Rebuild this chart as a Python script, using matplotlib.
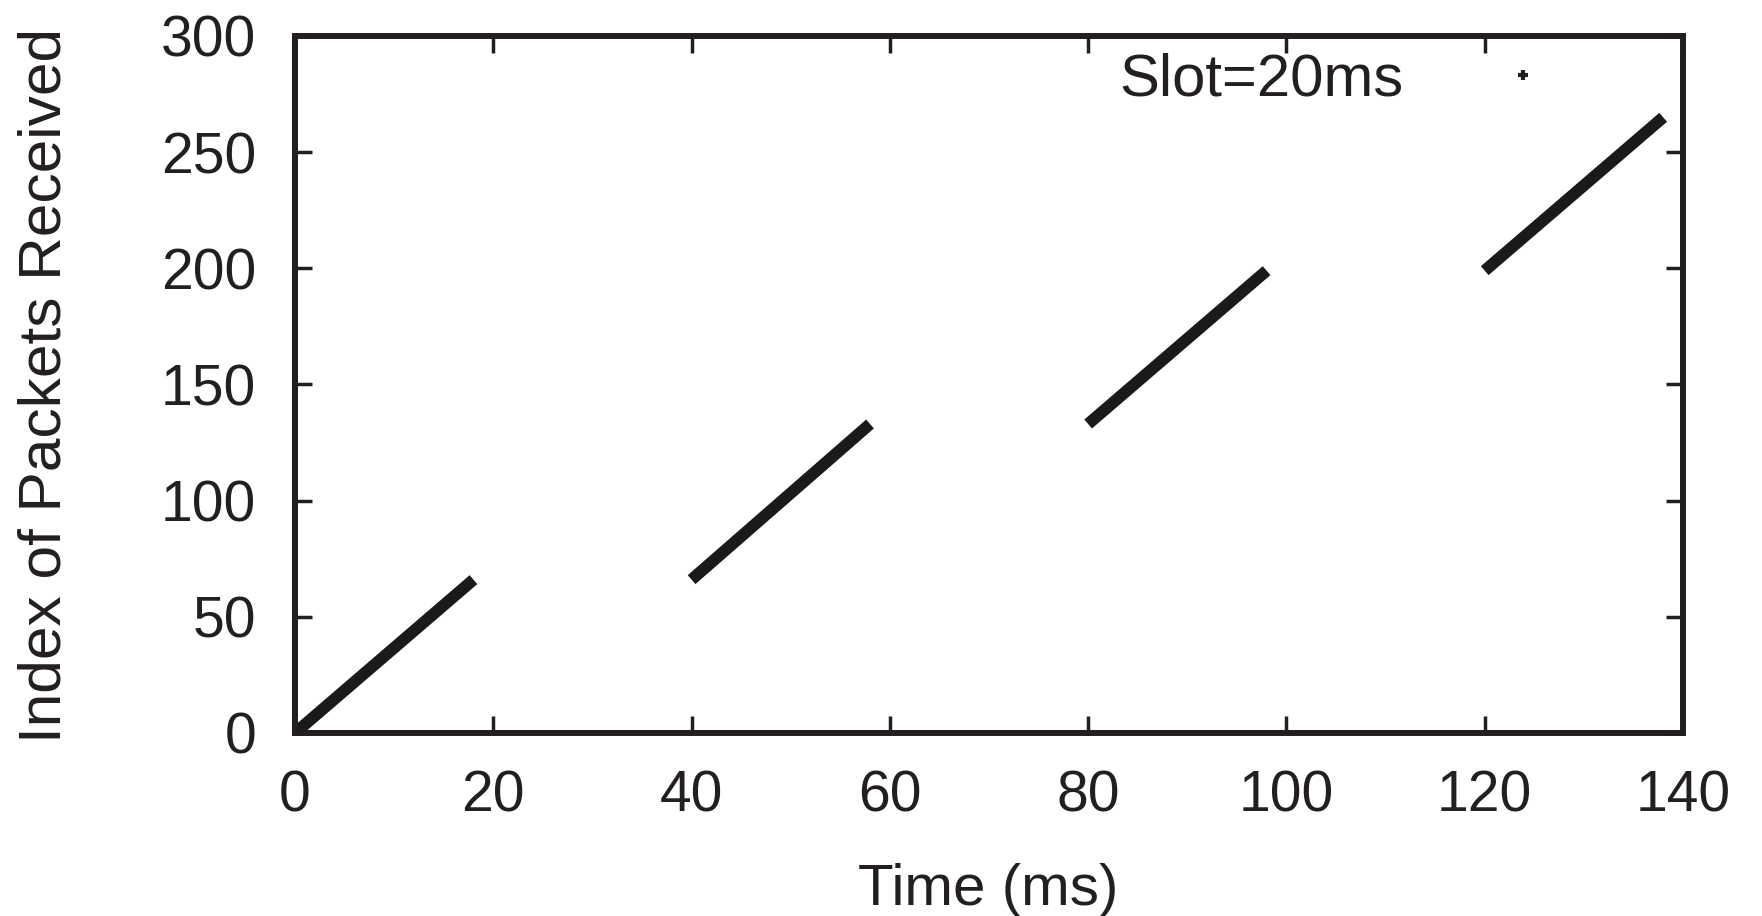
import matplotlib
matplotlib.use('Agg')
import matplotlib.pyplot as plt
from matplotlib.lines import Line2D

plt.rcParams['font.family'] = ['Liberation Sans', 'DejaVu Sans']

# one row per slot burst: start/end time (ms) and packet index
seg_t0 = [0, 40, 80, 120]
seg_t1 = [18, 58, 98, 138]
seg_i0 = [0, 66, 133, 199]
seg_i1 = [66, 133, 199, 265]

xticks = [0, 20, 40, 60, 80, 100, 120, 140]
yticks = [0, 50, 100, 150, 200, 250, 300]

W, H = 1762, 916
fig = plt.figure(figsize=(W / 100, H / 100), dpi=100)
ax = fig.add_axes([295 / W, 1 - 733 / H, (1683 - 295) / W, (733 - 36) / H])

for t0, t1, i0, i1 in zip(seg_t0, seg_t1, seg_i0, seg_i1):
    ax.plot([t0, t1], [i0, i1], color='#1a1a1a', lw=8.5, solid_capstyle='butt')

ax.set_xlim(0, 140)
ax.set_ylim(0, 300)
ax.set_xticks(xticks)
ax.set_yticks(yticks)

for s in ax.spines.values():
    s.set_linewidth(4.3)
    s.set_color('#231f20')
ax.tick_params(direction='in', length=12, width=2.5, color='#231f20',
               top=True, right=True, labelsize=41, labelcolor='#231f20')
ax.tick_params(axis='x', pad=26)
ax.tick_params(axis='y', pad=28)

# key: text then sample, gnuplot style
key = Line2D([], [], marker='+', ms=7, mew=3, ls='none', color='#231f20')
ax.legend([key], ['Slot=20ms'], loc='center right',
          bbox_to_anchor=(0.928, 0.937), frameon=False, markerfirst=False,
          fontsize=43, handlelength=2, handletextpad=1.0,
          borderpad=0, borderaxespad=0, labelcolor='#231f20')

fig.text(988 / W, 1 - 905 / H, 'Time (ms)', ha='center', va='baseline',
         fontsize=42, color='#231f20')
fig.text(45 / W, 1 - 385 / H, 'Index of Packets Received', rotation=90,
         ha='center', va='center', fontsize=43.5, color='#231f20')

fig.savefig('out.png', dpi=100)
